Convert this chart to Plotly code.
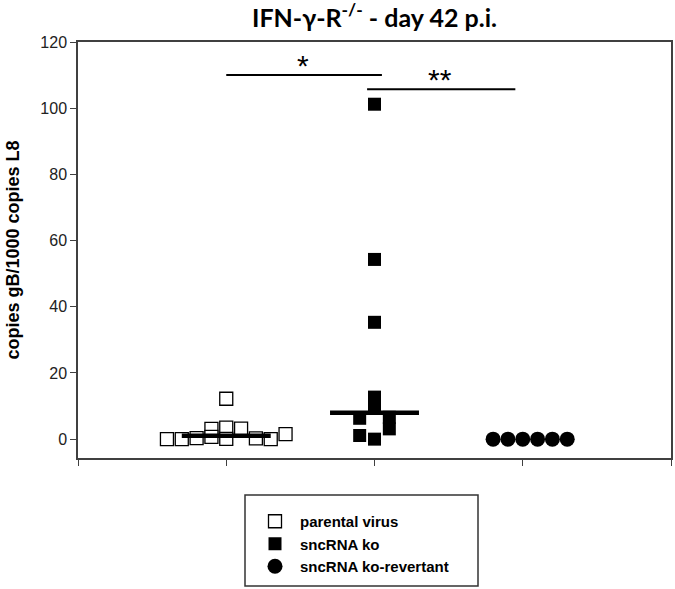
import plotly.graph_objects as go

# ---- data ----
group_names = ["parental virus", "sncRNA ko", "sncRNA ko-revertant"]
group_pos = [1, 2, 3]

parental_x = [0.6, 0.7, 0.8, 0.9, 0.9, 1.0, 1.0, 1.0, 1.1, 1.2, 1.3, 1.4]
parental_y = [0.0, 0.0, 0.3, 3.1, 0.7, 12.2, 3.5, 0.1, 3.2, 0.2, 0.0, 1.5]

ko_x = [2.0, 2.0, 2.0, 2.0, 2.0, 1.9, 1.9, 2.0, 2.1, 2.1]
ko_y = [101.2, 54.3, 35.3, 12.7, 10.4, 6.3, 1.1, 0.0, 6.6, 3.1]

rev_x = [2.8, 2.9, 3.0, 3.1, 3.2, 3.3]
rev_y = [0.0, 0.0, 0.0, 0.0, 0.0, 0.0]

median_groups = [1, 2]
median_values = [1.0, 8.0]
median_halfwidth = 0.3

# significance brackets
sig_x0 = [1.0, 1.95]
sig_x1 = [2.05, 2.95]
sig_y = [110.0, 105.7]
sig_labels = ["*", "**"]
sig_label_x = [1.52, 2.44]
sig_label_y = [113.0, 108.8]

x_ticks = [0, 1, 2, 3, 4]
y_ticks = [0, 20, 40, 60, 80, 100, 120]

# ---- figure ----
fig = go.Figure()

fig.add_trace(go.Scatter(
    x=parental_x, y=parental_y, mode="markers", name=group_names[0],
    marker=dict(symbol="square", size=13, color="white",
                line=dict(color="black", width=1.3)),
))
fig.add_trace(go.Scatter(
    x=ko_x, y=ko_y, mode="markers", name=group_names[1],
    marker=dict(symbol="square", size=13, color="black",
                line=dict(color="black", width=0)),
))
fig.add_trace(go.Scatter(
    x=rev_x, y=rev_y, mode="markers", name=group_names[2],
    marker=dict(symbol="circle", size=15, color="black",
                line=dict(color="black", width=0)),
))

for g, m in zip(median_groups, median_values):
    fig.add_trace(go.Scatter(
        x=[g - median_halfwidth, g + median_halfwidth], y=[m, m],
        mode="lines", line=dict(color="black", width=4.5),
        showlegend=False, hoverinfo="skip",
    ))

for x0, x1, yv in zip(sig_x0, sig_x1, sig_y):
    fig.add_trace(go.Scatter(
        x=[x0, x1], y=[yv, yv], mode="lines",
        line=dict(color="black", width=2), showlegend=False, hoverinfo="skip",
    ))

for lab, lx, ly in zip(sig_labels, sig_label_x, sig_label_y):
    fig.add_annotation(x=lx, y=ly, text=lab, showarrow=False,
                       font=dict(family="Liberation Sans", size=30, color="black"),
                       xanchor="center", yanchor="middle")

# legend frame (page pixels -> paper coords)
W, H = 675, 589
ML, MR, MT, MB = 78, 4, 42, 131
PW, PH = W - ML - MR, H - MT - MB


def px_x(p):
    return (p - ML) / PW


def px_y(p):
    return (H - MB - p) / PH


fig.add_shape(type="rect", xref="paper", yref="paper",
              x0=px_x(245), x1=px_x(478), y0=px_y(586), y1=px_y(495),
              line=dict(color="#333333", width=1.5), fillcolor="rgba(0,0,0,0)")

axis_color = "#404040"
fig.update_layout(
    width=W, height=H,
    margin=dict(l=ML, r=MR, t=MT, b=MB, autoexpand=False),
    paper_bgcolor="white", plot_bgcolor="white",
    title=dict(text="IFN-γ-R<sup>-/-</sup> - day 42 p.i.",
               font=dict(family="Lato", size=25, color="black", weight="bold"),
               x=(78 + 671) / 2 / 675, xanchor="center",
               y=1 - 18 / 589, yanchor="middle"),
    xaxis=dict(range=[0, 4], tickvals=x_ticks, showticklabels=False,
               ticks="outside", ticklen=6, tickcolor=axis_color, tickwidth=1.2,
               showline=True, linecolor=axis_color, linewidth=1.5, mirror=True,
               showgrid=False, zeroline=False, automargin=False),
    yaxis=dict(range=[-5.7, 120], tickvals=y_ticks,
               ticks="outside", ticklen=6, tickcolor=axis_color, tickwidth=1.2,
               showline=True, linecolor=axis_color, linewidth=1.5, mirror=True,
               showgrid=False, zeroline=False, automargin=False,
               tickfont=dict(family="Liberation Sans", size=16, color="#222222"),
               title=dict(text="copies gB/1000 copies L8", standoff=16,
                          font=dict(family="Liberation Sans", size=18, color="black",
                                    weight="bold"))),
    legend=dict(x=px_x(250), y=px_y(505), xanchor="left", yanchor="top",
                borderwidth=0, bgcolor="rgba(0,0,0,0)",
                font=dict(family="Liberation Sans", size=15, color="black",
                          weight="bold"),
                entrywidth=190, itemwidth=40, tracegroupgap=0),
    showlegend=True,
)

fig.write_html("out.html", config={"displayModeBar": False},
               post_script="document.body.style.margin='0';")
